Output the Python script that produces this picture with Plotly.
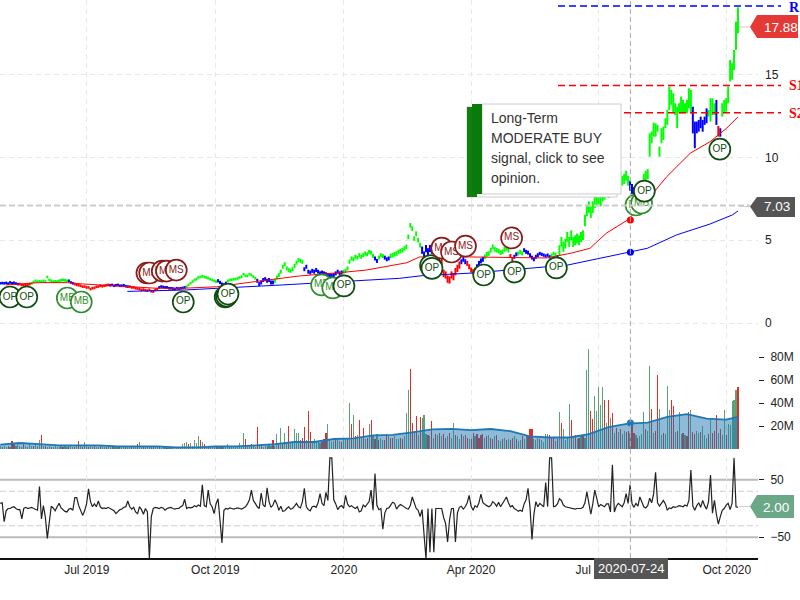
import pandas as pd
import plotly.graph_objects as go

# ---------- data ----------
tick_dates = ["2019-07-01", "2019-10-01", "2020-01-01", "2020-04-01", "2020-07-01", "2020-10-01"]
tick_labels = ["Jul 2019", "Oct 2019", "2020", "Apr 2020", "Jul 2020", "Oct 2020"]

# (signal colour, half bar height, mid prices)
price_blocks = [
    ("b", .08, [2.40, 2.41, 2.40, 2.42, 2.38, 2.45, 2.40, 2.43, 2.38, 2.35]),
    ("r", .08, [2.35, 2.3, 2.3, 2.28, 2.3, 2.35]),
    ("g", .08, [2.4, 2.48, 2.55, 2.5, 2.52, 2.5, 2.55, 2.5, 2.78, 2.6, 2.55, 2.5, 2.52, 2.5, 2.55, 2.58, 2.6, 2.58, 2.55]),
    ("b", .08, [2.55, 2.45, 2.4]),
    ("r", .08, [2.35, 2.3, 2.28, 2.25, 2.2, 2.2, 2.15, 2.15, 2.05, 2.1, 2.12, 2.18, 2.2, 2.25, 2.22, 2.25, 2.28, 2.3]),
    ("b", .08, [2.28, 2.3, 2.25, 2.28, 2.3, 2.25, 2.25, 2.28, 2.22, 2.2]),
    ("r", .08, [2.2, 2.15, 2.15, 2.1, 2.08, 2.05, 2.0, 2.02, 1.98, 1.95, 2.0, 1.92, 1.9, 2.0, 2.05]),
    ("b", .08, [2.15, 2.2, 2.18, 2.15, 2.15, 2.1, 2.1, 2.08, 2.05, 2.1, 2.08, 2.1, 2.12, 2.15]),
    ("g", .08, [2.2, 2.3, 2.4, 2.5, 2.6, 2.65, 2.75, 2.78, 2.82, 2.78, 2.75, 2.72, 2.65, 2.6, 2.55, 2.5]),
    ("b", .1, [2.55, 2.45, 2.35, 2.3, 2.4]),
    ("g", .08, [2.55, 2.6, 2.62, 2.65, 2.65, 2.7, 2.75, 2.8, 2.95, 2.85, 2.85, 2.95, 2.9, 2.8, 2.7]),
    ("b", .12, [2.55, 2.35, 2.45, 2.6, 2.65, 2.55, 2.6, 2.45, 2.45]),
    ("g", .12, [2.55, 2.75, 2.9, 3.1, 3.4, 3.55, 3.3, 3.2, 3.15, 3.25, 3.45, 3.65, 3.8, 3.75, 3.7]),
    ("b", .12, [3.25, 3.4, 3.1, 3.05, 3.15, 3.1, 3.2, 3.1, 3.0, 3.05, 3.0, 2.95, 2.9, 2.9, 2.85, 2.9, 3.0, 3.1, 3.0, 3.05]),
    ("g", .12, [3.1, 3.15, 3.3, 3.7, 3.9, 3.85, 4.0, 3.95, 4.1, 4.0, 4.1, 4.2, 4.15, 4.3, 4.25, 4.05]),
    ("b", .12, [3.9, 3.75]),
    ("g", .12, [3.95, 4.1, 4.05]),
    ("b", .12, [3.95, 3.85, 3.9]),
    ("g", .14, [4.05, 4.1, 4.15, 4.2, 4.3, 4.35, 4.4, 4.5, 4.6, 5.2, 5.9, 5.7, 5.1, 5.4, 5.0, 4.7]),
    ("b", .22, [4.4, 4.1, 4.5, 4.3, 4.5, 4.4, 4.6, 4.4, 4.3, 4.2]),
    ("r", .22, [3.7, 3.0, 2.9, 2.65, 2.6, 2.9, 2.8, 3.1, 3.3, 3.5]),
    ("b", .15, [3.7, 3.85, 3.7]),
    ("r", .15, [3.6, 3.4, 3.2, 3.1, 3.2]),
    ("b", .15, [3.4, 3.6, 3.75, 3.85]),
    ("g", .14, [4.0, 4.15, 4.2, 4.4, 4.6, 4.45, 4.4, 4.35, 4.25, 4.3, 4.45, 4.5, 4.4]),
    ("r", .12, [4.05, 3.85]),
    ("b", .12, [4.0, 4.15]),
    ("g", .12, [4.2, 4.3, 4.2]),
    ("b", .12, [4.4, 4.3, 4.25, 4.1, 3.95, 3.85, 4.0, 4.1]),
    ("b", .1, [4.2, 4.15, 4.1, 4.05, 4.1, 4.0]),
    ("g", .1, [4.1, 4.2, 4.15]),
    ("b", .1, [4.0]),
    ("g", .3, [4.4, 4.9, 4.6, 4.8, 5.2, 4.9, 5.3, 4.9, 5.0, 5.1, 5.0, 5.2, 5.3]),
    ("g", .35, [6.2, 6.8, 7.0, 6.7, 7.0, 7.3, 7.4, 7.5, 7.4, 7.7, 7.8, 8.0, 7.9, 8.2, 8.3, 8.4, 8.5, 8.7, 8.8]),
    ("g", .3, [8.6, 8.7, 8.9, 8.6]),
    ("b", .3, [8.3, 8.1, 7.9]),
    ("b", .3, [7.8, 8.0]),
    ("g", .3, [8.0, 8.3, 8.7, 8.9, 9.0]),
]
late_signal = "gggggggggggggggggggggg" "bbbbbbbb" "gggg" "b" "r" "b" "gggg" "ggggg"
late_low = [10.05, 10.86, 11.26, 11.26, 11.56, 10.05, 10.86, 11.06, 11.77, 11.97, 12.87, 13.18, 12.67, 12.57, 11.77,
            12.67, 12.67, 12.67, 12.67, 12.67, 12.97, 12.67,
            11.46, 10.56, 11.46, 11.56, 11.77, 11.56, 11.97, 12.07,
            12.47, 12.17, 12.57, 12.57, 11.97, 11.26, 11.26,
            12.47, 12.67, 12.77, 13.28, 14.59, 14.7, 15.29, 16.5, 17.5]
late_high = [11.46, 11.56, 12.11, 12.07, 11.97, 10.66, 11.77, 11.87, 12.37, 12.87, 14.28, 14.08, 13.88, 13.28, 13.07,
             13.28, 13.68, 13.48, 13.28, 13.48, 14.18, 14.08,
             13.07, 12.17, 12.17, 12.27, 12.47, 12.27, 12.47, 12.97,
             12.87, 13.58, 13.58, 13.28, 13.48, 11.91, 11.77,
             13.28, 13.48, 13.58, 14.28, 15.89, 15.7, 16.5, 18.21, 19.08]

ma_red_dates = ["2019-05-04", "2019-05-28", "2019-06-17", "2019-06-28", "2019-07-22", "2019-08-20", "2019-09-08",
                "2019-10-02", "2019-11-02", "2019-11-30", "2019-12-31", "2020-01-17", "2020-02-15", "2020-02-24",
                "2020-03-23", "2020-04-09", "2020-04-30", "2020-05-25", "2020-06-11", "2020-06-25", "2020-07-07",
                "2020-07-22", "2020-08-07", "2020-08-19", "2020-08-26", "2020-09-05", "2020-09-19", "2020-10-01",
                "2020-10-09"]
ma_red = [2.30, 2.44, 2.44, 2.36, 2.24, 2.10, 2.10, 2.19, 2.54, 2.84, 3.06, 3.20, 3.64, 3.99, 4.00, 3.99, 3.99, 3.93,
          4.21, 4.51, 5.44, 6.22, 7.61, 8.84, 9.43, 10.27, 10.95, 11.78, 12.45]
ma_blue_dates = ["2019-07-30", "2019-09-08", "2019-11-18", "2020-01-03", "2020-02-10", "2020-02-26", "2020-04-02",
                 "2020-06-09", "2020-07-22", "2020-08-05", "2020-08-26", "2020-09-19", "2020-10-05", "2020-10-09"]
ma_blue = [1.91, 1.99, 2.30, 2.54, 2.70, 2.86, 3.02, 3.50, 4.27, 4.51, 5.32, 5.98, 6.53, 6.77]

crosshair_date = "2020-07-24"
crosshair_red, crosshair_blue, crosshair_vol = 6.22, 4.27, 22.6

flag_dates = ["2019-05-07", "2019-05-19", "2019-06-17", "2019-06-27", "2019-08-13", "2019-08-15", "2019-08-24",
              "2019-08-27", "2019-09-03", "2019-09-08", "2019-10-08", "2019-10-09", "2019-10-10", "2019-12-16",
              "2019-12-24", "2020-01-01", "2020-03-03", "2020-03-04", "2020-03-11", "2020-03-18", "2020-03-28",
              "2020-04-10", "2020-05-02", "2020-04-30", "2020-06-01", "2020-07-28", "2020-08-01", "2020-08-03",
              "2020-09-26"]
flag_values = [1.57, 1.57, 1.51, 1.27, 3.02, 3.02, 3.14, 3.14, 3.2, 1.27, 1.57, 1.63, 1.75, 2.30, 2.12, 2.24, 3.47,
               3.30, 4.53, 4.29, 4.65, 2.90, 3.08, 5.14, 3.33, 7.13, 7.25, 7.97, 10.5]
flag_labels = ["OP", "OP", "MB", "MB", "MS", "MS", "MS", "MS", "MS", "OP", "OP", "OP", "OP", "MB", "MB", "OP", "OP",
               "OP", "MS", "MS", "MS", "OP", "OP", "MS", "OP", "MB", "MB", "OP", "OP"]

# negative = red (down day) bar, millions of shares, one per trading day
volume_signed = [
    3, -2, 3, 2, -3, 2, -7, -5, 3, 4,
    3, -2, -4, 3, 2, 4, 3, -3, 4, 3,
    8, -12, 3, -3, 2, 3, -2, 2, 3, 2,
    2, 3, -2, 3, 2, -3, 3, 2, -2, 3,
    -7, 3, -2, 6, 3, -2, 3, 2, -3, 2,
    2, -3, 3, 2, -2, 3, 2, -2, 3, 2,
    2, -2, 3, 2, -2, 2, 3, -2, 2, 3,
    -4, 6, 2, -2, 3, 2, 2, -2, -3, 2,
    2, -2, 1, 2, 2, -1, 2, 1, 2, 2,
    1, 2, 1, 4, 5, 6, -4, 5, 3, 8,
    5, 11, -8, 6, -4, 3, -2, 3, 3, 2,
    -3, 2, 3, -2, 3, 2, 4, -3, 2, 3,
    3, 2, 5, 3, 14, -9, 3, 3, -4, 3,
    2, -19, 3, -4, 2, 3, -3, 4, 3, -8,
    3, 13, -5, 18, -5, 14, 6, -20, 5, 7,
    17, 14, 14, -8, -10, -19, 8, -33, -15, 7,
    9, 7, 6, 5, -6, -9, -14, 22, 9, 6,
    7, -9, 8, 7, -6, 10, 9, -10, 40, -22,
    30, -11, 12, -25, 10, -18, 9, -10, 22, -25,
    12, -9, 13, -8, 10, 8, -8, -13, 12, -10,
    -10, 11, 9, 9, -10, -9, 11, 31, 51, -70,
    -23, 16, -29, 12, -28, 27, 30, 13, -12, 11,
    -24, 10, -13, 12, -14, 11, -13, -10, 11, -14,
    10, 23, -12, 11, 9, -13, 11, -12, -10, 9,
    -9, -14, 11, -13, -10, -12, -13, 10, -11, 12,
    -10, -9, 11, -12, 8, 7, -9, 10, -8, 9,
    -8, -10, 11, -9, 7, 8, -11, 9, 12, -11,
    -17, -17, 9, 8, 10, -9, 8, 6, 13, 13,
    -12, -10, -10, 7, -9, 32, -23, 17, 8, 10,
    39, -25, 11, -12, 9, -10, 12, -11, 10, 69,
    87, -33, -26, 46, 33, 54, 38, 54, -43, 23,
    -43, 27, -31, 14, -18, 15, -17, 13, 16, -15,
    -16, 14, -23, -14, 12, -10, 11, 13, 32, -17,
    16, 72, -35, 14, -16, -64, 35, 12, -14, 13,
    55, 34, -43, -37, 15, -16, 32, 13, -14, 12,
    -11, -32, 34, -15, -13, 16, 14, -15, 20, 12,
    10, -13, 27, -14, -16, -30, 14, -17, 12, 34,
    -12, 22, 21, 42, 43, 51, -54,
]
# volume average, one value every ten trading days, then the last day
volume_avg = [3.8, 5.2, 4.3, 3.2, 3.2, 3.2, 2.3, 2.3, 2.3, 1.5, 1.5, 2.3, 2.3, 3.2, 4.3, 6.1, 6.1, 8.7, 9.3, 11.9,
              12.2, 14.5, 17, 17.5, 16.5, 17.4, 15.5, 11, 10, 10, 13, 19, 22, 23, 28, 30.4, 26.5, 25.5, 28]

oscillator = [
    9, 10, -23, -4, 0, 0, 2, 3, 0, -2,
    -2, -18, 0, 2, 0, 1, 2, 0, -1, -3,
    38, -18, 5, -15, -52, -20, 4, 1, -4, 3,
    9, 1, -2, -5, -6, -1, 0, -3, 19, 19,
    5, -3, -12, -4, 8, 34, 12, 3, 8, 3,
    13, 3, 0, 1, 0, 2, 0, -3, -4, -9,
    -6, -2, -1, 2, 3, 13, 3, -1, 2, -6,
    -9, 3, -2, -10, 0, -6, -88, -14, 0, 2,
    1, 0, 2, 1, -3, 0, 1, 2, 0, -1,
    0, 0, 3, 5, 16, 0, 2, 1, 2, 5,
    3, 6, 4, 41, 5, 3, 32, 8, 3, -9,
    8, 17, -20, -60, -3, 0, -1, 1, 0, -1,
    0, 1, 0, -1, 1, 3, 8, 15, 32, 14,
    9, 3, 0, 27, 6, 3, 36, 12, 2, 6,
    15, 8, -3, 4, -5, -4, 0, 3, -1, 0,
    4, 9, 3, 1, 12, 35, 3, -2, -4, 3,
    4, 2, 10, 26, 9, 5, 28, 14, 88, 88,
    15, 8, -2, 3, 5, 0, 23, 8, 3, 5,
    2, 0, 3, -6, -4, 6, 3, 8, 12, 32,
    -3, 61, 5, -2, 0, -36, -8, 0, 1, 6,
    11, 9, -1, 4, 7, 5, 2, 0, -1, 5,
    20, 10, 0, -3, -14, -2, -40, -88, 0, -76,
    0, -76, 0, 0, 0, 0, -16, -26, -58, -20,
    0, 0, -58, -8, 2, 4, -1, 3, 10, 23,
    4, -3, 5, 2, 10, 25, 10, 7, 5, 3,
    5, 12, 9, 4, 11, 3, 8, 13, 20, 10,
    3, 5, 0, -2, -5, -3, -5, 8, 15, 35,
    2, -54, -10, 12, 3, 9, 6, 3, 45, 3,
    88, 88, 3, 4, 8, 17, 14, 6, 3, 2,
    1, 0, 0, -1, 0, 0, 0, 2, 10, 29,
    5, -10, 8, 32, 18, 3, 7, 5, 3, 8,
    8, -6, 76, -6, 4, 9, 6, 3, 10, 26,
    9, 41, 8, 2, 9, 4, 20, 12, 3, 1,
    5, 18, 10, 25, 63, 10, 4, 9, 14, 8,
    -3, 1, 0, 3, 2, 3, 5, 4, 3, 6,
    4, 14, 67, 4, -3, 5, 10, 2, 14, 5,
    -1, 12, 58, -8, 14, -10, -27, -14, -3, 0,
    6, 9, -2, 9, 88, 3, 2,
]

# ---------- assemble ----------
W, H = 800, 600
PLOT_R = 758
def fx(px): return px / W
def fy(py): return 1 - py / H

signal, low, high = [], [], []
for col, half, mids in price_blocks:
    for m in mids:
        signal.append(col); low.append(m - half); high.append(m + half)
signal += list(late_signal); low += late_low; high += late_high

# the chart spaces its trading days evenly along the date axis
dates = pd.date_range("2019-04-30", "2020-10-09", periods=len(signal))
assert len(volume_signed) == len(dates) and len(oscillator) == len(dates)

fig = go.Figure()
COL = {"g": "#00ff00", "b": "#0000ff", "r": "#ff0000"}
for key, color in COL.items():
    xs, ys = [], []
    for d, s, lo, hi in zip(dates, signal, low, high):
        if s == key:
            xs += [d, d, None]; ys += [lo, hi, None]
    fig.add_trace(go.Scatter(x=xs, y=ys, mode="lines", line=dict(color=color, width=2), xaxis="x", yaxis="y"))

fig.add_trace(go.Scatter(x=ma_red_dates, y=ma_red, mode="lines", line=dict(color="#ff0000", width=1)))
fig.add_trace(go.Scatter(x=ma_blue_dates, y=ma_blue, mode="lines", line=dict(color="#0000ff", width=1)))
fig.add_trace(go.Scatter(x=[crosshair_date], y=[crosshair_red], mode="markers", marker=dict(color="#ff0000", size=7)))
fig.add_trace(go.Scatter(x=[crosshair_date], y=[crosshair_blue], mode="markers", marker=dict(color="#0000ff", size=7)))

FLAG = {"OP": "#0f4d0f", "MB": "#2f8f2f", "MS": "#8b1a1a"}
for d, v, lab in zip(flag_dates, flag_values, flag_labels):
    c = FLAG[lab]
    fig.add_trace(go.Scatter(x=[d], y=[v], mode="markers+text", text=[lab], textposition="middle center",
                             textfont=dict(family="Liberation Sans", size=10, color=c),
                             marker=dict(size=21, color="white", line=dict(color=c, width=1.7))))

vol_colors = ["#5aa377" if v > 0 else "#e52b25" for v in volume_signed]
fig.add_trace(go.Bar(x=dates, y=[abs(v) for v in volume_signed], marker=dict(color=vol_colors, line=dict(width=0)),
                     width=0.7e8, xaxis="x2", yaxis="y2"))
avg_dates = list(dates[::10]) + [dates[-1]]
fig.add_trace(go.Scatter(x=avg_dates[:len(volume_avg)], y=volume_avg, mode="lines", fill="tozeroy",
                         fillcolor="rgba(31,119,180,0.5)", line=dict(color="#1f78b4", width=1.8),
                         xaxis="x2", yaxis="y2"))
fig.add_trace(go.Scatter(x=[crosshair_date], y=[crosshair_vol], mode="markers", marker=dict(color="#1f78b4", size=7),
                         xaxis="x2", yaxis="y2"))

fig.add_trace(go.Scatter(x=dates, y=oscillator, mode="lines", line=dict(color="#222222", width=1.2),
                         xaxis="x3", yaxis="y3"))

# ---------- shapes ----------
shapes = []
# oscillator bands
for v, dash, color, width in [(50, "solid", "#bbbbbb", 2), (-50, "solid", "#bbbbbb", 2),
                              (30, "6px,3px", "#cccccc", 1), (-30, "6px,3px", "#cccccc", 1)]:
    shapes.append(dict(type="line", xref="paper", yref="y3", x0=0, x1=fx(PLOT_R), y0=v, y1=v,
                       line=dict(color=color, width=width, dash=dash), layer="below"))
# crosshair
shapes.append(dict(type="line", xref="x", yref="paper", x0=crosshair_date, x1=crosshair_date, y0=fy(558), y1=1,
                   line=dict(color="#aaaaaa", width=1, dash="5px,3px")))
shapes.append(dict(type="line", xref="paper", yref="paper", x0=0, x1=fx(750), y0=fy(205.5), y1=fy(205.5),
                   line=dict(color="#cccccc", width=2, dash="6px,3px")))
# resistance / support
for val, color in [(19.15, "#0000ff"), (14.35, "#ff0000"), (12.7, "#ff0000")]:
    shapes.append(dict(type="line", xref="paper", yref="y", x0=fx(558), x1=fx(781), y0=val, y1=val,
                       line=dict(color=color, width=1.5, dash="7px,4px")))

def poly(points):
    return "M" + " L".join(f"{fx(x):.5f},{fy(y):.5f}" for x, y in points) + " Z"

def add_poly(points, fill, line="rgba(0,0,0,0)", lw=0):
    shapes.append(dict(type="path", xref="paper", yref="paper", path=poly(points), fillcolor=fill,
                       line=dict(color=line, width=lw)))

def add_rect(x0, y0, x1, y1, fill, line="rgba(0,0,0,0)", lw=0):
    shapes.append(dict(type="rect", xref="paper", yref="paper", x0=fx(x0), x1=fx(x1), y0=fy(y1), y1=fy(y0),
                       fillcolor=fill, line=dict(color=line, width=lw)))

# price flags at the right
for y_mid, top, bot, right, color in [(27, 15, 38, 798, "#e53935"), (206.5, 197, 217, 795, "#555555"),
                                      (506.5, 495, 518, 794, "#6aa888")]:
    shapes.append(dict(type="line", xref="paper", yref="paper", x0=fx(739), x1=fx(750), y0=fy(y_mid), y1=fy(y_mid),
                       line=dict(color="#cccccc", width=1)))
    add_poly([(750, y_mid), (757, top), (right, top), (right, bot), (757, bot)], color)
# date label
add_rect(594, 558, 668, 579, "#555555")
# call-out, back then front
add_rect(467, 107, 617, 197, "#ffffff", "#cccccc", 1)
add_rect(467, 107, 477, 197, "#107f10")
add_rect(482, 104, 621, 194, "#ffffff", "#cccccc", 1)
add_rect(472, 104, 482, 194, "#0a7a0a")

# ---------- annotations ----------
ann = []
def label(x, y, text, color, size=13, anchor="center", family="Liberation Sans", bold=False):
    t = f"<b>{text}</b>" if bold else text
    ann.append(dict(xref="paper", yref="paper", x=fx(x), y=fy(y), text=t, showarrow=False, xanchor=anchor,
                    yanchor="middle", align="left", borderpad=0,
                    font=dict(family=family, size=size, color=color)))

label(781, 27, "17.88", "white", 13.5)
label(777, 207, "7.03", "white", 13.5)
label(776, 507, "2.00", "white", 13.5)
label(631, 568, "2020-07-24", "white", 13)
label(788, 7, "R1", "#0000ff", 14, "left", "Liberation Serif", True)
label(788, 86, "S1", "#ff0000", 14, "left", "Liberation Serif", True)
label(788, 113, "S2", "#ff0000", 14, "left", "Liberation Serif", True)
callout_lines = ["Long-Term", "MODERATE BUY", "signal, click to see", "opinion."]
for i, line in enumerate(callout_lines):
    label(489.5, 118 + 20 * i, line, "#333333", 14, "left")

# ---------- axes ----------
GRID = dict(showgrid=True, gridcolor="#e8e8e8", griddash="5px,4px", gridwidth=1)
x_common = dict(type="date", range=["2019-04-29 20:00", "2020-10-23 08:00"], domain=[0, fx(PLOT_R)],
                tickmode="array", tickvals=tick_dates, zeroline=False, **GRID)
tick_font = dict(family="Liberation Sans", size=12, color="#222222")

fig.update_layout(
    width=W, height=H, margin=dict(l=0, r=0, t=0, b=0), autosize=False,
    paper_bgcolor="white", plot_bgcolor="white", showlegend=False, hovermode=False, bargap=0,
    xaxis=dict(anchor="y", showticklabels=False, **x_common),
    xaxis2=dict(anchor="y2", showticklabels=False, **x_common),
    xaxis3=dict(anchor="y3", ticktext=tick_labels, tickfont=tick_font, showline=True, linecolor="#111111",
                linewidth=1.5, ticks="", **x_common),
    yaxis=dict(anchor="x", side="right", domain=[fy(338), 1], range=[(323 - 338) / 16.55, 323 / 16.55],
               tickvals=[0, 5, 10, 15], tickfont=tick_font, zeroline=False, ticklabelstandoff=6, **GRID),
    yaxis2=dict(anchor="x2", side="right", domain=[fy(449), fy(345)], range=[0, (449 - 345) / 1.15],
                tickvals=[20, 40, 60, 80], ticktext=["20M", "40M", "60M", "80M"], tickfont=tick_font,
                showgrid=False, zeroline=False, ticks="outside", ticklen=5, tickcolor="#222222", ticklabelstandoff=4),
    yaxis3=dict(anchor="x3", side="right", domain=[fy(558), fy(457)],
                range=[(508.5 - 558) / 0.575, (508.5 - 457) / 0.575],
                tickvals=[-50, 50], tickfont=tick_font, showgrid=False, zeroline=False,
                ticks="outside", ticklen=5, tickcolor="#222222", ticklabelstandoff=4),
    shapes=shapes, annotations=ann,
)

fig.write_html("out.html", config=dict(displayModeBar=False, staticPlot=True),
               post_script="document.body.style.margin='0';")
